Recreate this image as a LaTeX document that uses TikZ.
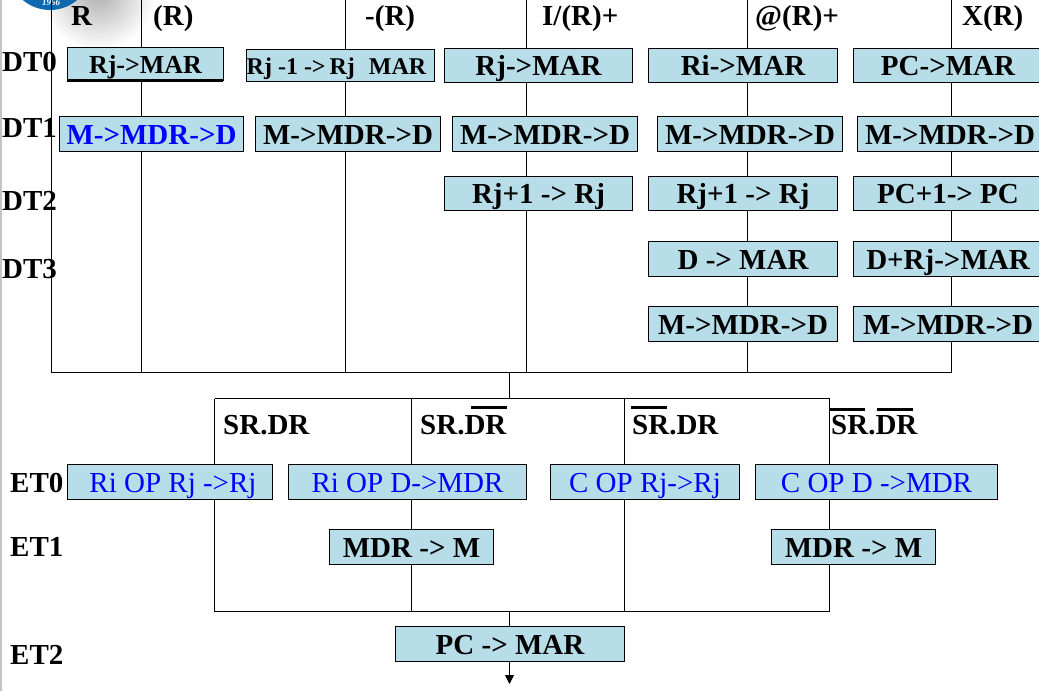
\documentclass[tikz,border=0pt]{standalone}
\usepackage{fontspec}
\setmainfont{Liberation Serif}
\definecolor{boxfill}{HTML}{B7DDE8}
\definecolor{logoblue}{HTML}{0F69AE}
\definecolor{leftgray}{HTML}{C4C4C4}
\newcommand{\boldtext}{\fontsize{29}{30}\selectfont\bfseries}
\newcommand{\lighttext}{\fontsize{29}{30}\selectfont}
\tikzset{
  opbox/.style={draw=black,line width=1.1pt,fill=boxfill,inner sep=0pt,text=black,text height=20pt,text depth=0pt},
  bluebox/.style={opbox,text=blue},
  head/.style={inner sep=0pt,anchor=base west,text=black,font=\boldtext},
  wire/.style={draw=black,line width=1pt},
  bar/.style={draw=black,line width=3pt}
}
% \opb{name}{style}{x1}{y1}{x2}{y2}{text}
\newcommand{\opb}[7]{\path let \n1={(#3+#5)/2+0.5}, \n2={(#4+#6)/2+0.5}, \n3={#5-#3}, \n4={#6-#4} in
  node[#2,minimum width=\n3*1pt,minimum height=\n4*1pt] (#1) at (\n1,\n2) {#7};}
\usetikzlibrary{calc,arrows.meta}
\begin{document}
\begin{tikzpicture}[x=1pt,y=-1pt]
\useasboundingbox (0,0) rectangle (1039,691);
\clip (0,0) rectangle (1039,691);
\fill[white] (0,0) rectangle (1039,691);
\fill[leftgray] (0,0) rectangle (1.5,691);
% logo and its shadow
\shade[inner color=black!32,outer color=white] (98,-8) circle [radius=58];
\fill[logoblue] (50,-32) circle [radius=42];
\node[text=white,inner sep=0pt,font=\fontsize{9}{10}\selectfont\itshape\bfseries] (logoyear) at (51,3) {1956};
% junctions
\coordinate (t1) at (51.5,0);\coordinate (t2) at (141.5,0);\coordinate (t3) at (345.5,0);
\coordinate (t4) at (526.5,0);\coordinate (t5) at (747.5,0);\coordinate (t6) at (951.5,0);
\coordinate (b1) at (51.5,372.5);\coordinate (b2) at (141.5,372.5);\coordinate (b3) at (345.5,372.5);
\coordinate (b4) at (526.5,372.5);\coordinate (b5) at (747.5,372.5);\coordinate (b6) at (951.5,372.5);
\coordinate (m0) at (509.5,372.5);\coordinate (m1) at (509.5,398.5);
\coordinate (u1) at (214.5,398.5);\coordinate (u2) at (411.5,398.5);\coordinate (u3) at (624.5,398.5);\coordinate (u4) at (829.5,398.5);
\coordinate (l1) at (214.5,611.5);\coordinate (l2) at (411.5,611.5);\coordinate (l3) at (624.5,611.5);\coordinate (l4) at (829.5,611.5);
\coordinate (l0) at (509.5,611.5);\coordinate (pin) at (509.5,626);\coordinate (pout) at (509.5,684);
\draw[wire] (t1)--(b1);\draw[wire] (t2)--(b2);\draw[wire] (t3)--(b3);
\draw[wire] (t4)--(b4);\draw[wire] (t5)--(b5);\draw[wire] (t6)--(b6);
\draw[wire] (b1)--(b6);
\draw[wire] (m0)--(m1);
\draw[wire] (u1)--(u4);
\draw[wire] (u1)--(l1);\draw[wire] (u2)--(l2);\draw[wire] (u3)--(l3);\draw[wire] (u4)--(l4);
\draw[wire] (l1)--(l4);
\draw[wire] (l0)--(pin);
\draw[wire,-{Stealth[length=9pt,width=9pt,inset=0pt]}] (pin)--(pout);
% column heads
\node[head] (hR) at (71,25) {R};
\node[head] (hIR) at (153,25) {(R)};
\node[head] (hDR) at (365,25) {-(R)};
\node[head] (hAI) at (542,25) {I/(R)+};
\node[head] (hAA) at (755,25) {@(R)+};
\node[head] (hX) at (962,25) {X(R)};
% row labels
\node[head] (dt0) at (2,71) {DT0};
\node[head] (dt1) at (2,137) {DT1};
\node[head] (dt2) at (2,210) {DT2};
\node[head] (dt3) at (2,278) {DT3};
\node[head] (et0) at (10,492) {ET0};
\node[head] (et1) at (10,556) {ET1};
\node[head] (et2) at (10,664) {ET2};
\node[head] (s1) at (223,434) {SR.DR};
\node[head] (s2) at (420,434) {SR.DR};
\node[head] (s3) at (632,434) {SR.DR};
\node[head] (s4) at (831,434) {SR.DR};
\draw[bar] (471,407)--(507,407);
\draw[bar] (631,407)--(667,407);
\draw[bar] (830,409)--(865,409);
\draw[bar] (877,409)--(913,409);
% DT boxes
\opb{a0}{opbox,font=\boldtext,text height=19pt}{67}{47}{223}{80}{\fontsize{26}{28}\selectfont Rj->MAR}
\draw[bar] (67,80)--(223,80);
\opb{b0}{opbox,font=\boldtext,text height=17pt}{246}{49}{434}{81}{\fontsize{24}{26}\selectfont Rj -1 ->\,Rj\, \,MAR\hspace*{8pt}}
\opb{c0}{opbox,font=\boldtext}{444}{48}{632}{82}{Rj->MAR}
\opb{d0}{opbox,font=\boldtext}{648}{48}{837}{82}{Ri->MAR}
\opb{e0}{opbox,font=\boldtext}{853}{48}{1042}{82}{PC->MAR}
\opb{a1}{bluebox,font=\boldtext}{59}{116}{243}{151}{M->MDR->D}
\opb{b1b}{opbox,font=\boldtext}{255}{116}{440}{151}{M->MDR->D}
\opb{c1}{opbox,font=\boldtext}{452}{116}{637}{151}{M->MDR->D}
\opb{d1}{opbox,font=\boldtext}{657}{116}{842}{151}{M->MDR->D}
\opb{e1}{opbox,font=\boldtext}{857}{116}{1042}{151}{M->MDR->D}
\opb{c2}{opbox,font=\boldtext}{444}{176}{632}{210}{Rj+1 -> Rj}
\opb{d2}{opbox,font=\boldtext}{648}{176}{837}{210}{Rj+1 -> Rj}
\opb{e2}{opbox,font=\boldtext}{853}{176}{1042}{210}{PC+1-> PC}
\opb{d3}{opbox,font=\boldtext}{648}{241}{837}{276}{D -> MAR}
\opb{e3}{opbox,font=\boldtext}{853}{241}{1042}{276}{D+Rj->MAR}
\opb{d4}{opbox,font=\boldtext}{648}{306}{837}{341}{M->MDR->D}
\opb{e4}{opbox,font=\boldtext}{853}{306}{1042}{341}{M->MDR->D}
% ET boxes
\opb{f0}{bluebox,font=\lighttext}{67}{464}{272}{499}{\hspace*{6pt}Ri OP Rj ->Rj}
\opb{g0}{bluebox,font=\lighttext}{288}{464}{526}{499}{Ri OP D->MDR}
\opb{h0}{bluebox,font=\lighttext}{550}{464}{739}{499}{C OP Rj->Rj}
\opb{i0}{bluebox,font=\lighttext}{755}{464}{997}{499}{C OP D ->MDR}
\opb{g1}{opbox,font=\boldtext}{329}{529}{493}{564}{MDR -> M}
\opb{i1}{opbox,font=\boldtext}{771}{529}{935}{564}{MDR -> M}
\opb{p0}{opbox,font=\boldtext}{395}{626}{624}{661}{PC -> MAR}
\end{tikzpicture}
\end{document}
